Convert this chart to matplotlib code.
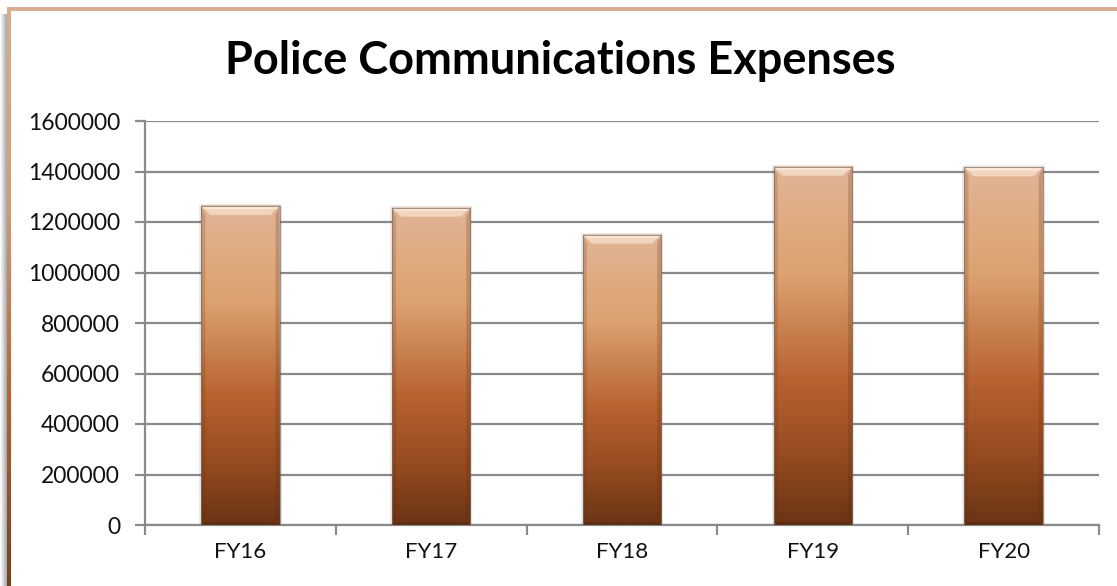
import numpy as np
import matplotlib
matplotlib.use("Agg")
import matplotlib.pyplot as plt
from matplotlib.colors import LinearSegmentedColormap
from matplotlib.patches import Polygon, Rectangle

# Data
categories = ["FY16", "FY17", "FY18", "FY19", "FY20"]
expenses = [1264000, 1257000, 1150000, 1419000, 1417000]
y_ticks = [0, 200000, 400000, 600000, 800000, 1000000, 1200000, 1400000, 1600000]
title = "Police Communications Expenses"

W, H, DPI = 1117, 586, 100
plt.rcParams["font.family"] = ["Lato", "DejaVu Sans"]

fig = plt.figure(figsize=(W / DPI, H / DPI), dpi=DPI)
fig.patch.set_facecolor("white")

# Background layer in pixel coordinates for the chart frame and its shadow
bg = fig.add_axes([0, 0, 1, 1], zorder=0)
bg.set_xlim(0, W)
bg.set_ylim(H, 0)
bg.axis("off")
shadow = np.linspace(0.0, 1.0, 8)[None, :]
shadow_cmap = LinearSegmentedColormap.from_list("sh", ["#ffffff", "#aaaaaa"])
bg.imshow(np.repeat(shadow, 10, axis=0), extent=[0, 7, H, 14], cmap=shadow_cmap,
          aspect="auto", interpolation="bicubic")
frame_cmap = LinearSegmentedColormap.from_list(
    "frame", ["#d9ac90", "#d49c76", "#b86434", "#7a3e1c"])
grad = np.linspace(0, 1, 256)[:, None]
bg.imshow(grad, extent=[7, 10.5, H, 8], cmap=frame_cmap, aspect="auto",
          interpolation="bilinear", origin="upper")
bg.plot([7, W], [9.3, 9.3], color="#d9ac90", lw=2.8, solid_capstyle="butt")

# Plot area
left, right, top, bottom = 145, 1099, 121, 525
ax = fig.add_axes([left / W, 1 - bottom / H, (right - left) / W, (bottom - top) / H],
                  zorder=1)
ax.set_facecolor("none")
n = len(categories)
ax.set_xlim(0, n)
ax.set_ylim(0, 1600000)

grid_color = "#8a8a8a"
ax.set_yticks(y_ticks)
ax.set_yticklabels([str(v) for v in y_ticks], fontsize=16.5, color="#111111")
ax.yaxis.grid(True, color=grid_color, lw=1.6)
ax.set_axisbelow(True)
ax.set_xticks(np.arange(n + 1))
ax.set_xticklabels([])
ax.set_xticks(np.arange(n) + 0.5, minor=True)
ax.set_xticklabels(categories, minor=True, fontsize=16, color="#111111")
ax.tick_params(axis="x", which="major", length=7, width=1.6, color=grid_color)
ax.tick_params(axis="x", which="minor", length=0, pad=12)
ax.tick_params(axis="y", length=7, width=1.6, color=grid_color, pad=11)
for s in ["top", "right"]:
    ax.spines[s].set_visible(False)
for s in ["left", "bottom"]:
    ax.spines[s].set_color(grid_color)
    ax.spines[s].set_linewidth(1.6)

# Bar fill: light peach at the top fading to dark brown at the base
bar_cmap = LinearSegmentedColormap.from_list(
    "bar", [(0.0, "#e2b596"), (0.30, "#dca270"), (0.60, "#b7622f"),
            (0.82, "#93491f"), (1.0, "#6a3415")])
px_x = n / (right - left)          # data units per pixel, x
px_y = 1600000 / (bottom - top)    # data units per pixel, y
bar_w = 0.41
bev = 9  # bevel size in pixels
for i, v in enumerate(expenses):
    x0, x1 = i + 0.5 - bar_w / 2, i + 0.5 + bar_w / 2
    # soft drop shadow
    ax.add_patch(Rectangle((x0 - 2 * px_x, 0), bar_w + 4 * px_x, v + 2 * px_y,
                           facecolor="#000000", alpha=0.08, lw=0, zorder=2))
    ax.imshow(grad, extent=[x0, x1, 0, v], cmap=bar_cmap, aspect="auto",
              interpolation="bilinear", origin="upper", zorder=3)
    bx, by = bev * px_x, bev * px_y
    # top bevel highlight
    ax.add_patch(Polygon([(x0, v), (x1, v), (x1 - bx, v - by), (x0 + bx, v - by)],
                         closed=True, facecolor="#f6dcc6", edgecolor="none",
                         alpha=0.85, zorder=4))
    ax.add_patch(Polygon([(x0, v), (x1, v), (x1 - bx * 0.3, v - by * 0.35),
                          (x0 + bx * 0.3, v - by * 0.35)],
                         closed=True, facecolor="#fff3ea", edgecolor="none",
                         alpha=0.7, zorder=4))
    # side bevels
    sx = 4 * px_x
    ax.add_patch(Polygon([(x0, v), (x0 + sx, v - by), (x0 + sx, by * 0.5), (x0, 0)],
                         closed=True, facecolor="#5a2a10", alpha=0.18, lw=0, zorder=4))
    ax.add_patch(Polygon([(x1, v), (x1 - sx, v - by), (x1 - sx, by * 0.5), (x1, 0)],
                         closed=True, facecolor="#5a2a10", alpha=0.22, lw=0, zorder=4))
    ax.add_patch(Polygon([(x0, 0), (x1, 0), (x1 - sx, 3 * px_y), (x0 + sx, 3 * px_y)],
                         closed=True, facecolor="#3a1a08", alpha=0.25, lw=0, zorder=4))
    ax.add_patch(Rectangle((x0, 0), bar_w, v, facecolor="none",
                           edgecolor="#7d6a5e", lw=0.8, alpha=0.7, zorder=5))

ax.set_xlim(0, n)
ax.set_ylim(0, 1600000)

fig.text(560 / W, 1 - 61 / H, title, ha="center", va="center",
         fontsize=32.5, fontweight="bold", color="#000000")

fig.savefig("out.png", dpi=DPI, facecolor="white")
